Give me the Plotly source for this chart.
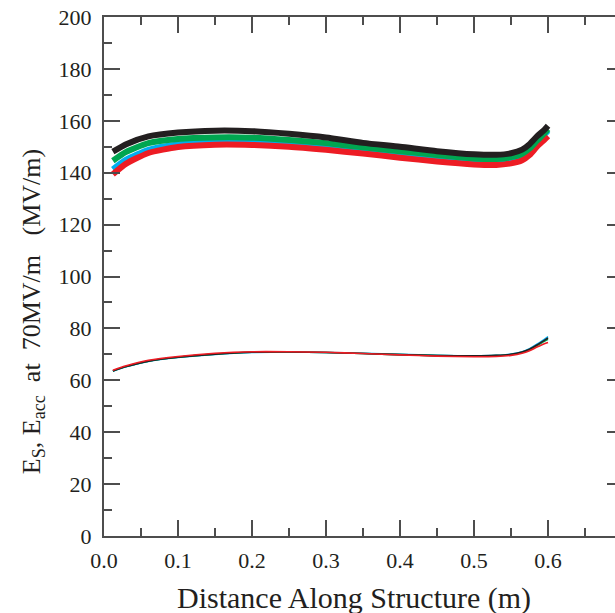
import plotly.graph_objects as go

x = [0.012, 0.03, 0.06, 0.1, 0.15, 0.2, 0.25, 0.3, 0.35, 0.4, 0.45, 0.5,
     0.53, 0.55, 0.565, 0.575, 0.585, 0.595, 0.6]

es_black = [148.1, 151.0, 154.0, 155.5, 156.2, 156.0, 155.0, 153.6, 151.5, 150.0,
            148.3, 147.1, 146.9, 147.5, 148.9, 151.0, 154.0, 156.5, 158.1]
es_green = [144.6, 148.0, 151.4, 153.0, 153.6, 153.5, 152.6, 151.4, 149.8, 148.3,
            146.8, 145.5, 145.3, 146.0, 147.3, 149.3, 152.3, 155.2, 156.8]
es_cyan = [141.3, 145.0, 148.8, 150.9, 151.7, 151.6, 150.8, 149.6, 148.3, 146.9,
           145.6, 144.6, 144.4, 145.1, 146.5, 148.6, 151.8, 154.7, 156.2]
es_red = [139.4, 143.5, 147.6, 149.9, 150.8, 150.7, 150.0, 148.8, 147.4, 145.8,
          144.3, 143.2, 143.0, 143.6, 144.8, 146.8, 150.0, 152.7, 154.1]

eacc_black = [63.6, 65.3, 67.4, 68.9, 70.1, 70.8, 70.9, 70.7, 70.3, 69.9,
              69.5, 69.4, 69.6, 70.0, 70.9, 72.0, 73.6, 75.4, 76.3]
eacc_green = [63.6, 65.3, 67.4, 68.9, 70.1, 70.8, 70.9, 70.7, 70.3, 69.9,
              69.5, 69.4, 69.5, 69.9, 70.8, 71.8, 73.3, 75.0, 75.8]
eacc_cyan = [63.5, 65.2, 67.3, 68.8, 70.0, 70.7, 70.9, 70.7, 70.4, 70.0,
             69.6, 69.4, 69.6, 70.1, 71.0, 72.2, 73.9, 75.8, 76.8]
eacc_red = [63.9, 65.6, 67.7, 69.2, 70.4, 71.0, 71.0, 70.8, 70.3, 69.8,
            69.3, 69.1, 69.2, 69.6, 70.4, 71.4, 72.8, 74.1, 74.6]

x_tick_vals = [0, 0.1, 0.2, 0.3, 0.4, 0.5, 0.6]
x_tick_text = ["0.0", "0.1", "0.2", "0.3", "0.4", "0.5", "0.6"]

BLACK = "#231f20"
GREEN = "#00a651"
CYAN = "#00aeef"
RED = "#ed1c24"

fig = go.Figure()
for ys, c in [(es_cyan, CYAN), (es_red, RED), (es_green, GREEN), (es_black, BLACK)]:
    fig.add_trace(go.Scatter(x=x, y=ys, mode="lines", line=dict(color=c, width=6, shape="spline", smoothing=0.6),
                             showlegend=False, hoverinfo="skip"))
for ys, c in [(eacc_cyan, CYAN), (eacc_green, GREEN), (eacc_black, BLACK), (eacc_red, RED)]:
    fig.add_trace(go.Scatter(x=x, y=ys, mode="lines", line=dict(color=c, width=1.6, shape="spline", smoothing=0.6),
                             showlegend=False, hoverinfo="skip"))

# invisible trace for right-side mirrored ticks
fig.add_trace(go.Scatter(x=[None], y=[None], yaxis="y2", showlegend=False, hoverinfo="skip"))

AX = "#4d4d4d"
FF = "Liberation Serif, Times New Roman, serif"
tickfont = dict(family=FF, size=22, color=BLACK)
fig.update_layout(
    width=615, height=613,
    margin=dict(l=104, r=0, t=17, b=77, autoexpand=False),
    paper_bgcolor="white", plot_bgcolor="white",
    font=dict(family=FF, color=BLACK, size=22),
    xaxis=dict(range=[0, 0.6905], tickvals=x_tick_vals, ticktext=x_tick_text,
               ticks="inside", ticklen=16, tickwidth=1.5, tickcolor=AX,
               minor=dict(dtick=0.05, tick0=0, ticks="inside", ticklen=8, tickwidth=1.5, tickcolor=AX),
               showline=True, linecolor=AX, linewidth=2, mirror="ticks",
               showgrid=False, zeroline=False, ticklabelstandoff=4,
               tickfont=tickfont, automargin=False),
    yaxis=dict(range=[0, 200], dtick=20, ticks="inside", ticklen=16, tickwidth=1.5, tickcolor=AX,
               minor=dict(dtick=10, ticks="inside", ticklen=8, tickwidth=1.5, tickcolor=AX),
               showline=True, linecolor=AX, linewidth=2, mirror=False,
               showgrid=False, zeroline=False, ticklabelstandoff=6,
               tickfont=tickfont, automargin=False),
    yaxis2=dict(range=[0, 200], dtick=20, overlaying="y", side="right", anchor="x",
                ticks="inside", ticklen=8, tickwidth=1.5, tickcolor=AX,
                showticklabels=False, showline=False, showgrid=False, zeroline=False,
                automargin=False),
    annotations=[
        dict(text="Distance Along Structure (m)", xref="paper", yref="paper",
             x=0.49, y=-0.119, xanchor="center", yanchor="middle", showarrow=False,
             font=dict(size=30, family=FF, color=BLACK)),
        dict(text="E<sub>S</sub>, E<sub>acc</sub>\u00a0 at\u00a0 70MV/m\u00a0\u00a0 (MV/m)",
             xref="paper", yref="paper", x=-0.14, y=0.432, textangle=-90,
             xanchor="center", yanchor="middle", showarrow=False,
             font=dict(size=26, family=FF, color=BLACK)),
    ],
)

fig.write_html("out.html", config={"displayModeBar": False},
               post_script="document.body.style.margin='0px';document.body.style.overflow='hidden';")
